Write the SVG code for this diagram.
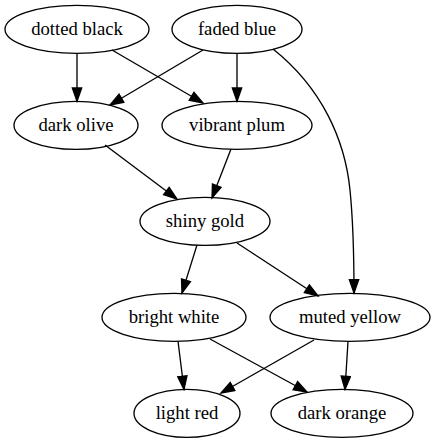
<svg xmlns="http://www.w3.org/2000/svg" width="436" height="443" viewBox="0 0 436 443">
<style>
.node ellipse{fill:none;stroke:#000;stroke-width:1.33}
.node text{font-family:'Liberation Serif','Times New Roman',serif;font-size:18.67px;text-anchor:middle;fill:#000}
.edges path{fill:none;stroke:#000;stroke-width:1.33;marker-end:url(#arr)}
</style>
<defs>
<marker id="arr" markerUnits="userSpaceOnUse" viewBox="-1 -1 16 12" markerWidth="16" markerHeight="12" refX="13.3" refY="4.67" orient="auto">
<path d="M0,0 L13.3,4.67 L0,9.33 Z" fill="#000" stroke="#000" stroke-width="1.33"/>
</marker>
</defs>
<rect width="436" height="443" fill="#fff"/>
<g class="edges">
<path d="M77,53.3 L77,101.3"/>
<path d="M112,50 L203,103"/>
<path d="M203,50 L110,105"/>
<path d="M237,53.3 L237,101.3"/>
<path d="M273,49 C322,88 345,140 350,190 C354,230 354,262 354,293"/>
<path d="M105,145 L177,199"/>
<path d="M231,149 L212,198"/>
<path d="M197,245 L182,293"/>
<path d="M237,243 L318,296"/>
<path d="M178,341 L184,389.5"/>
<path d="M210,339 L307,392"/>
<path d="M314,340 L221,393"/>
<path d="M348,341.3 L345,389.5"/>
</g>
<g id="dotted_black" class="node"><ellipse cx="77" cy="29.3" rx="72" ry="24"/><text x="77" y="35.3">dotted black</text></g>
<g id="faded_blue" class="node"><ellipse cx="237" cy="29.3" rx="65" ry="24"/><text x="237" y="35.3">faded blue</text></g>
<g id="dark_olive" class="node"><ellipse cx="76" cy="125.3" rx="62" ry="24"/><text x="76" y="131.3">dark olive</text></g>
<g id="vibrant_plum" class="node"><ellipse cx="237" cy="125.3" rx="75" ry="24"/><text x="237" y="131.3">vibrant plum</text></g>
<g id="shiny_gold" class="node"><ellipse cx="205" cy="221.3" rx="65" ry="24"/><text x="205" y="227.3">shiny gold</text></g>
<g id="bright_white" class="node"><ellipse cx="174" cy="317.3" rx="72" ry="24"/><text x="174" y="323.3">bright white</text></g>
<g id="muted_yellow" class="node"><ellipse cx="350" cy="317.3" rx="80" ry="24"/><text x="350" y="323.3">muted yellow</text></g>
<g id="light_red" class="node"><ellipse cx="187" cy="413.3" rx="53" ry="24"/><text x="187" y="419.3">light red</text></g>
<g id="dark_orange" class="node"><ellipse cx="342" cy="413.3" rx="71" ry="24"/><text x="342" y="419.3">dark orange</text></g>
</svg>
